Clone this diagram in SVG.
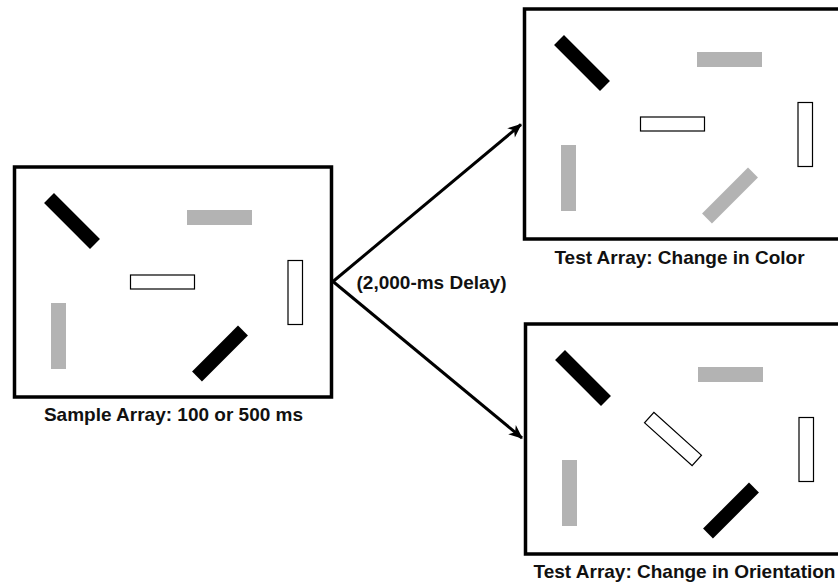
<svg xmlns="http://www.w3.org/2000/svg" width="838" height="586" viewBox="0 0 838 586">
  <style>
    .frame { fill: #fff; stroke: #000; stroke-width: 3.5; }
    .black { fill: #000; }
    .gray { fill: #b3b3b3; }
    .open { fill: #fff; stroke: #000; stroke-width: 1.2; }
    .label { font-family: "Liberation Sans", Arial, Helvetica, sans-serif; font-weight: bold; font-size: 19px; fill: #111; }
    .conn { stroke: #000; stroke-width: 3; fill: none; }
  </style>
  <defs>
    <marker id="arrow" markerUnits="userSpaceOnUse" markerWidth="16" markerHeight="14" refX="0" refY="0" viewBox="-14 -7 16 14" orient="auto">
      <path d="M1,0 L-13,-6 L-9,0 L-13,6 Z" fill="#000"/>
    </marker>
    <!-- one bar, centred on the origin -->
    <rect id="bar" x="-32.5" y="-7" width="65" height="14"/>
  </defs>

  <rect width="838" height="586" fill="#fff"/>

  <!-- Sample array -->
  <g id="sample-array">
    <rect class="frame" x="14.5" y="167" width="317" height="230"/>
    <use href="#bar" class="black" transform="translate(72,221) rotate(45)"/>
    <rect class="gray" x="187" y="210" width="65" height="15"/>
    <rect class="open" x="130.5" y="275" width="64" height="14"/>
    <rect class="open" x="288" y="260.5" width="14.5" height="64"/>
    <rect class="gray" x="51" y="303" width="15" height="66"/>
    <use href="#bar" class="black" transform="translate(220,353.5) rotate(-45)"/>
  </g>

  <!-- Test array: one bar changes colour -->
  <g id="test-color" transform="translate(510,-158)">
    <rect class="frame" x="14.5" y="167" width="317" height="230"/>
    <use href="#bar" class="black" transform="translate(72,221) rotate(45)"/>
    <rect class="gray" x="187" y="210" width="65" height="15"/>
    <rect class="open" x="130.5" y="275" width="64" height="14"/>
    <rect class="open" x="288" y="260.5" width="14.5" height="64"/>
    <rect class="gray" x="51" y="303" width="15" height="66"/>
    <use href="#bar" class="gray" transform="translate(220,353.5) rotate(-45)"/>
  </g>

  <!-- Test array: one bar changes orientation -->
  <g id="test-orientation" transform="translate(511,157)">
    <rect class="frame" x="14.5" y="167" width="317" height="230"/>
    <use href="#bar" class="black" transform="translate(72,221) rotate(45)"/>
    <rect class="gray" x="187" y="210" width="65" height="15"/>
    <rect class="open" x="-32" y="-7" width="64" height="14" transform="translate(162,282) rotate(42)"/>
    <rect class="open" x="288" y="260.5" width="14.5" height="64"/>
    <rect class="gray" x="51" y="303" width="15" height="66"/>
    <use href="#bar" class="black" transform="translate(220,353.5) rotate(-45)"/>
  </g>

  <!-- Connectors -->
  <g id="connectors">
    <line class="conn" x1="333" y1="281.5" x2="521" y2="124.5" marker-end="url(#arrow)"/>
    <line class="conn" x1="333" y1="281.5" x2="522" y2="438" marker-end="url(#arrow)"/>
  </g>

  <!-- Labels -->
  <g id="labels">
    <text class="label" x="173.5" y="421" text-anchor="middle">Sample Array: 100 or 500 ms</text>
    <text class="label" x="431.5" y="288.5" text-anchor="middle">(2,000-ms Delay)</text>
    <text class="label" x="679.5" y="264" text-anchor="middle">Test Array: Change in Color</text>
    <text class="label" x="684.5" y="578" text-anchor="middle">Test Array: Change in Orientation</text>
  </g>
</svg>
